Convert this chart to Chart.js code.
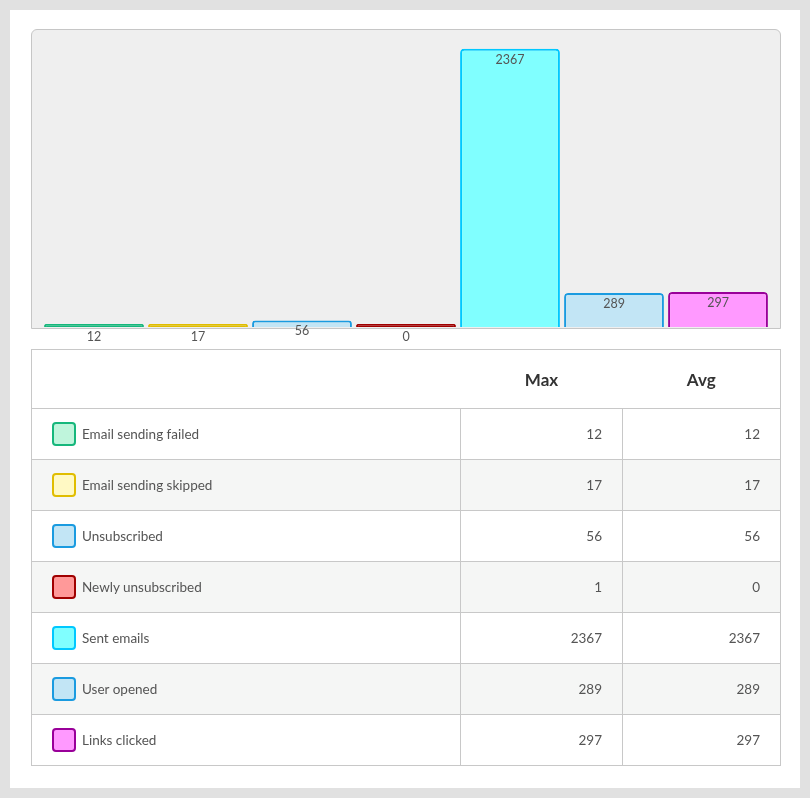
<!DOCTYPE html>
<html>
<head>
<meta charset="utf-8">
<script src="https://cdn.jsdelivr.net/npm/chart.js@4"></script>
<style>
    html, body { margin: 0; padding: 0; }
    body { background: #e1e1e1; width: 810px; height: 798px; font-family: Lato, "Noto Sans", sans-serif; color: #444; }
    #panel { position: absolute; left: 10px; top: 10px; width: 790px; height: 778px; background: #fff; }
    #chart-box { position: absolute; left: 21px; top: 19px; width: 748px; height: 298px; background: #efefef; border: 1px solid #c6c6c6; border-radius: 6px 6px 0 0; }
    #chart-wrap { position: absolute; left: 0; top: 0; width: 748px; height: 320px; }
    #stats { position: absolute; left: 21px; top: 339px; width: 750px; border-collapse: collapse; table-layout: fixed; font-size: 13.5px; }
    #stats th { height: 58px; padding: 0; font-size: 17px; font-weight: bold; color: #333; text-align: center; border-bottom: 1px solid #c8c8c8; }
    #stats thead tr { border: 1px solid #c8c8c8; }
    #stats td { height: 50px; border: 1px solid #c8c8c8; padding: 0 20px; color: #555; }
    #stats td.num { text-align: right; }
    #stats tbody tr:nth-child(even) td { background: #f5f6f5; }
    .swatch { display: inline-block; width: 20px; height: 20px; border: 2px solid; border-radius: 4px; vertical-align: middle; margin-right: 6px; box-sizing: content-box; }
    .lbl { vertical-align: middle; }
</style>
</head>
<body>
<div id="panel">
    <div id="chart-box">
        <div id="chart-wrap"><canvas id="bar-chart"></canvas></div>
    </div>
    <table id="stats">
        <colgroup><col style="width:429px"><col style="width:162px"><col></colgroup>
        <thead><tr><th></th><th>Max</th><th>Avg</th></tr></thead>
        <tbody id="stats-body"></tbody>
    </table>
</div>
<script>
const categories = ['Email sending failed', 'Email sending skipped', 'Unsubscribed', 'Newly unsubscribed', 'Sent emails', 'User opened', 'Links clicked'];
const maxValues = [12, 17, 56, 1, 2367, 289, 297];
const avgValues = [12, 17, 56, 0, 2367, 289, 297];
const fillColors = ['#bff5dc', '#fff9c4', '#c2e5f5', '#ff9999', '#80ffff', '#c2e5f5', '#ff99ff'];
const lineColors = ['#16b77c', '#e0bd00', '#1a9be0', '#a00000', '#00c8ff', '#1a9be0', '#990099'];

// value labels just below the top of each bar
const valueLabels = {
    id: 'valueLabels',
    afterDatasetsDraw(chart) {
        const ctx = chart.ctx;
        const meta = chart.getDatasetMeta(0);
        ctx.save();
        ctx.font = '12.5px Lato, "Noto Sans", sans-serif';
        ctx.fillStyle = '#555';
        ctx.textAlign = 'center';
        ctx.textBaseline = 'middle';
        meta.data.forEach((bar, i) => {
            const offset = bar.base - bar.y < 5 ? 13 : 11;
            ctx.fillText(String(avgValues[i]), bar.x, bar.y + offset);
        });
        ctx.restore();
    }
};

new Chart(document.getElementById('bar-chart').getContext('2d'), {
    type: 'bar',
    data: {
        labels: categories,
        datasets: [{
            data: avgValues,
            // bars only a couple of pixels tall show as a solid border line
            backgroundColor: (c) => avgValues[c.dataIndex] < 20 ? lineColors[c.dataIndex] : fillColors[c.dataIndex],
            borderColor: lineColors,
            borderWidth: 2,
            borderRadius: 4,
            borderSkipped: 'bottom',
            minBarLength: 3,
            barPercentage: 0.96,
            categoryPercentage: 1
        }]
    },
    options: {
        responsive: true,
        maintainAspectRatio: false,
        animation: false,
        layout: { padding: { left: 10, right: 10, top: 3, bottom: 23 } },
        plugins: { legend: { display: false }, tooltip: { enabled: false } },
        scales: {
            x: { display: false },
            y: { display: false, beginAtZero: true, max: 2500 }
        }
    },
    plugins: [valueLabels]
});

const body = document.getElementById('stats-body');
categories.forEach((name, i) => {
    const tr = document.createElement('tr');
    tr.innerHTML = `<td><span class="swatch" style="background:${fillColors[i]};border-color:${lineColors[i]}"></span><span class="lbl">${name}</span></td>` +
        `<td class="num">${maxValues[i]}</td><td class="num">${avgValues[i]}</td>`;
    body.appendChild(tr);
});
</script>
</body>
</html>
